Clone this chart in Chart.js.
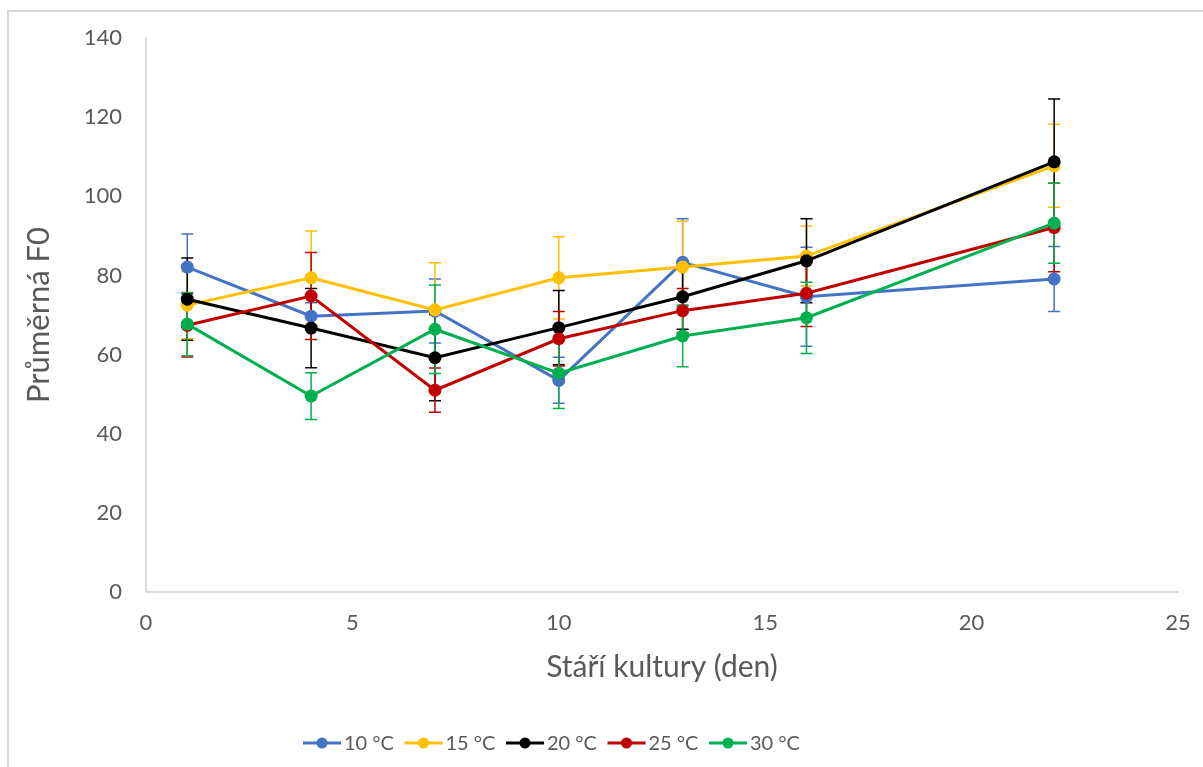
<!DOCTYPE html>
<html>
<head>
<meta charset="utf-8">
<title>Průměrná F0</title>
<script src="https://cdn.jsdelivr.net/npm/chart.js@4.4.1/dist/chart.umd.min.js"></script>
<style>
  html, body { margin: 0; padding: 0; background: #fff; }
  #wrap { position: relative; width: 1203px; height: 767px; overflow: hidden; }
  #frame { position: absolute; left: 7px; top: 10px; right: -2px; bottom: -2px;
           border-left: 2px solid #d9d9d9; border-top: 2px solid #d9d9d9; }
  #chart { position: absolute; left: 0; top: 0; }
</style>
</head>
<body>
<div id="wrap">
  <div id="frame"></div>
  <canvas id="chart" width="1203" height="767"></canvas>
</div>
<script>
// day of culture (x) and mean F0 per temperature
const days = [1, 4, 7, 10, 13, 16, 22];
const seriesLabels = ["10 °C", "15 °C", "20 °C", "25 °C", "30 °C"];
const seriesColors = ["#4472C4", "#FFC000", "#000000", "#C00000", "#00B050"];

const f0_10 = [82.1, 69.7, 71.0, 53.5, 83.3, 74.6, 79.1];
const f0_15 = [72.5, 79.4, 71.3, 79.4, 82.1, 84.9, 107.7];
const f0_20 = [74.0, 66.7, 59.2, 66.8, 74.6, 83.7, 108.7];
const f0_25 = [67.4, 74.8, 51.0, 64.0, 71.1, 75.5, 92.1];
const f0_30 = [67.7, 49.5, 66.4, 55.3, 64.7, 69.3, 93.2];

// error bar half-lengths (+/-)
const err_10 = [8.4, 3.4, 8.1, 5.8, 11.0, 12.5, 8.2];
const err_15 = [8.5, 11.8, 11.9, 10.4, 11.6, 7.6, 10.5];
const err_20 = [10.4, 10.0, 10.9, 9.4, 8.2, 10.6, 15.9];
const err_25 = [8.0, 11.0, 5.6, 6.9, 5.6, 8.4, 11.2];
const err_30 = [8.0, 5.9, 11.2, 8.9, 7.8, 9.0, 10.1];

const xTicks = [0, 5, 10, 15, 20, 25];
const yTicks = [0, 20, 40, 60, 80, 100, 120, 140];

const allValues = [f0_10, f0_15, f0_20, f0_25, f0_30];
const allErrors = [err_10, err_15, err_20, err_25, err_30];

const FONT = "Lato, 'Open Sans', sans-serif";
const TEXT = "#595959";

const errorBars = {
  id: "errorBars",
  beforeDatasetsDraw(chart) {
    const { ctx, scales: { x, y } } = chart;
    ctx.save();
    ctx.lineWidth = 1.5;
    chart.data.datasets.forEach((ds, i) => {
      const errs = allErrors[i];
      ctx.strokeStyle = ds.borderColor;
      ds.data.forEach((pt, j) => {
        const px = x.getPixelForValue(pt.x);
        const top = y.getPixelForValue(pt.y + errs[j]);
        const bot = y.getPixelForValue(pt.y - errs[j]);
        ctx.beginPath();
        ctx.moveTo(px, top); ctx.lineTo(px, bot);
        ctx.moveTo(px - 6, top); ctx.lineTo(px + 6, top);
        ctx.moveTo(px - 6, bot); ctx.lineTo(px + 6, bot);
        ctx.stroke();
      });
    });
    ctx.restore();
  }
};

// legend with line + marker, like the original
const lineLegend = {
  id: "lineLegend",
  afterDraw(chart) {
    const ctx = chart.ctx;
    const y = 743;
    ctx.save();
    ctx.font = "20px " + FONT;
    ctx.textBaseline = "middle";
    chart.data.datasets.forEach((ds, i) => {
      const x = 303 + i * 101.5;
      ctx.strokeStyle = ds.borderColor;
      ctx.lineWidth = 3;
      ctx.beginPath();
      ctx.moveTo(x, y); ctx.lineTo(x + 38, y);
      ctx.stroke();
      ctx.fillStyle = ds.borderColor;
      ctx.beginPath();
      ctx.arc(x + 19, y, 5.5, 0, Math.PI * 2);
      ctx.fill();
      ctx.fillStyle = TEXT;
      ctx.fillText(ds.label, x + 41, y + 1);
    });
    ctx.restore();
  }
};

const datasets = seriesLabels.map((label, i) => ({
  label: label,
  data: days.map((d, j) => ({ x: d, y: allValues[i][j] })),
  borderColor: seriesColors[i],
  backgroundColor: seriesColors[i],
  borderWidth: 3,
  pointRadius: 6.5,
  pointHoverRadius: 6.5,
  pointBorderWidth: 0,
  tension: 0,
  order: seriesLabels.length - i,
}));

new Chart(document.getElementById("chart"), {
  type: "line",
  data: { datasets: datasets },
  options: {
    responsive: false,
    animation: false,
    layout: { padding: { left: 0, right: 25, top: 38, bottom: 70 } },
    plugins: {
      legend: { display: false },
      tooltip: { enabled: false },
    },
    scales: {
      x: {
        type: "linear",
        min: 0,
        max: 25,
        afterBuildTicks: (s) => { s.ticks = xTicks.map((v) => ({ value: v })); },
        afterFit: (s) => { s.height = 105; },
        ticks: { color: TEXT, font: { family: FONT, size: 22 }, padding: 10 },
        grid: { display: false },
        border: { display: true, color: "#d9d9d9", width: 2 },
        title: {
          display: true,
          text: "Stáří kultury (den)",
          color: TEXT,
          font: { family: FONT, size: 30 },
          padding: { top: 0, bottom: 12 },
        },
      },
      y: {
        min: 0,
        max: 140,
        afterBuildTicks: (s) => { s.ticks = yTicks.map((v) => ({ value: v })); },
        afterFit: (s) => { s.width = 146; },
        ticks: { color: TEXT, font: { family: FONT, size: 22 }, padding: 16 },
        grid: { display: false },
        border: { display: true, color: "#d9d9d9", width: 2 },
        title: {
          display: true,
          text: "Průměrná F0",
          color: TEXT,
          font: { family: FONT, size: 31 },
          padding: { top: 20, bottom: 0 },
        },
      },
    },
  },
  plugins: [errorBars, lineLegend],
});
</script>
</body>
</html>
